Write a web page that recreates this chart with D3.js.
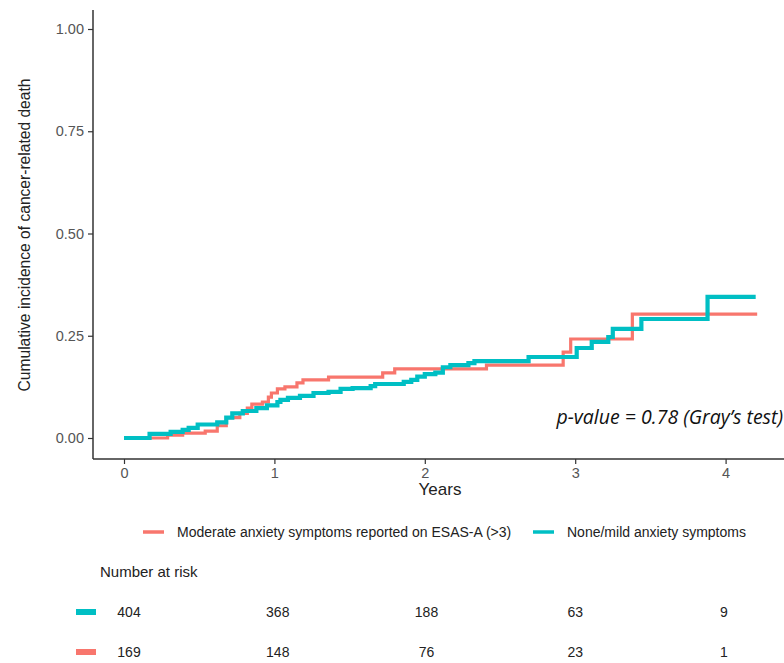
<!DOCTYPE html>
<html>
<head>
<meta charset="utf-8">
<script src="https://cdn.jsdelivr.net/npm/d3@7"></script>
<style>
  body { margin: 0; background: #fff; }
  text { font-family: "Liberation Sans", Arial, sans-serif; }
</style>
</head>
<body>
<svg id="chart" width="784" height="663"></svg>
<script>
// step data (years, cumulative incidence)
const moderateTimes = [0, 0.29, 0.39, 0.54, 0.62, 0.68, 0.77, 0.82, 0.85, 0.92, 0.96, 0.98, 1.02, 1.07, 1.15, 1.19, 1.36, 1.72, 1.80, 2.41, 2.92, 2.97, 3.38, 4.21];
const moderateCI = [0, 0.007, 0.012, 0.017, 0.03, 0.05, 0.06, 0.073, 0.083, 0.088, 0.10, 0.11, 0.12, 0.125, 0.135, 0.142, 0.149, 0.159, 0.169, 0.178, 0.21, 0.242, 0.303, 0.303];

const mildTimes = [0, 0.17, 0.31, 0.39, 0.43, 0.49, 0.62, 0.68, 0.72, 0.79, 0.88, 0.95, 1.02, 1.04, 1.09, 1.17, 1.26, 1.36, 1.44, 1.52, 1.64, 1.67, 1.86, 1.91, 1.95, 2.00, 2.07, 2.12, 2.17, 2.29, 2.33, 2.69, 3.01, 3.11, 3.22, 3.25, 3.44, 3.88, 4.20];
const mildCI = [0, 0.01, 0.015, 0.02, 0.025, 0.033, 0.038, 0.05, 0.06, 0.066, 0.073, 0.08, 0.088, 0.093, 0.098, 0.103, 0.11, 0.113, 0.12, 0.122, 0.127, 0.132, 0.137, 0.142, 0.150, 0.156, 0.16, 0.173, 0.178, 0.183, 0.188, 0.198, 0.22, 0.235, 0.247, 0.267, 0.291, 0.345, 0.345];

const xTicks = [0, 1, 2, 3, 4];
const yTicks = [0, 0.25, 0.5, 0.75, 1];
const riskTimes = [0, 1, 2, 3, 4];
const riskMild = [404, 368, 188, 63, 9];
const riskModerate = [169, 148, 76, 23, 1];

const groupNames = ["Moderate anxiety symptoms reported on ESAS-A (>3)", "None/mild anxiety symptoms"];
const colors = ["#F8766D", "#00BFC4"];

const svg = d3.select("#chart");

const xScale = d3.scaleLinear().domain([0, 4]).range([124, 725.6]);
const yScale = d3.scaleLinear().domain([0, 1]).range([438, 29]);

// axes
const xAxis = svg.append("g")
  .attr("transform", "translate(0,459)")
  .call(d3.axisBottom(xScale).tickValues(xTicks).tickFormat(d3.format("d")).tickSize(5).tickPadding(4));
xAxis.select(".domain").attr("d", "M93,0H784");

const yAxis = svg.append("g")
  .attr("transform", "translate(93,0)")
  .call(d3.axisLeft(yScale).tickValues(yTicks).tickFormat(d3.format(".2f")).tickSize(5).tickPadding(4));
yAxis.select(".domain").attr("d", "M0,10V459");

svg.selectAll(".domain").attr("stroke", "#333").attr("stroke-width", 1.5);
svg.selectAll(".tick line").attr("stroke", "#333").attr("stroke-width", 1.2);
svg.selectAll(".tick text")
  .attr("fill", "#555")
  .style("font-size", "14.5px")
  .style("font-family", "'Liberation Sans', Arial, sans-serif");

svg.append("text")
  .attr("transform", "translate(30,235) rotate(-90)")
  .attr("text-anchor", "middle")
  .attr("fill", "#222")
  .style("font-size", "15.6px")
  .text("Cumulative incidence of cancer-related death");

svg.append("text")
  .attr("x", 440)
  .attr("y", 495)
  .attr("text-anchor", "middle")
  .attr("fill", "#222")
  .style("font-size", "17px")
  .text("Years");

// curves
const line = d3.line()
  .x(d => xScale(d[0]))
  .y(d => yScale(d[1]))
  .curve(d3.curveStepAfter);

const series = [
  { pts: d3.zip(moderateTimes, moderateCI), color: colors[0], width: 3.2 },
  { pts: d3.zip(mildTimes, mildCI), color: colors[1], width: 4.2 }
];

svg.append("g").selectAll("path")
  .data(series)
  .enter().append("path")
  .attr("d", d => line(d.pts))
  .attr("fill", "none")
  .attr("stroke", d => d.color)
  .attr("stroke-width", d => d.width);

svg.append("text")
  .attr("x", 783)
  .attr("y", 424)
  .attr("text-anchor", "end")
  .attr("fill", "#111")
  .style("font-family", "'Open Sans', sans-serif")
  .style("font-style", "italic")
  .style("font-size", "19.5px")
  .text("p-value = 0.78 (Gray\u2019s test)");

// legend
const legend = svg.append("g").style("font-size", "14px");
const legendItems = [
  { x: 143, name: groupNames[0], color: colors[0] },
  { x: 533, name: groupNames[1], color: colors[1] }
];
legendItems.forEach(item => {
  legend.append("line")
    .attr("x1", item.x).attr("x2", item.x + 21)
    .attr("y1", 532).attr("y2", 532)
    .attr("stroke", item.color)
    .attr("stroke-width", 3.5);
  legend.append("text")
    .attr("x", item.x + 34)
    .attr("y", 537)
    .attr("fill", "#222")
    .text(item.name);
});

// risk table
const riskScale = d3.scaleLinear().domain([0, 4]).range([129, 724]);

svg.append("text")
  .attr("x", 100)
  .attr("y", 577)
  .attr("fill", "#222")
  .style("font-size", "15px")
  .text("Number at risk");

const rows = [
  { y: 612, counts: riskMild, color: colors[1] },
  { y: 652, counts: riskModerate, color: colors[0] }
];

rows.forEach(row => {
  svg.append("rect")
    .attr("x", 76).attr("y", row.y - 3)
    .attr("width", 20).attr("height", 6)
    .attr("fill", row.color);
  svg.append("g").selectAll("text")
    .data(d3.zip(riskTimes, row.counts))
    .enter().append("text")
    .attr("x", d => riskScale(d[0]))
    .attr("y", row.y + 5)
    .attr("text-anchor", "middle")
    .attr("fill", "#222")
    .style("font-size", "14px")
    .text(d => d[1]);
});
</script>
</body>
</html>
